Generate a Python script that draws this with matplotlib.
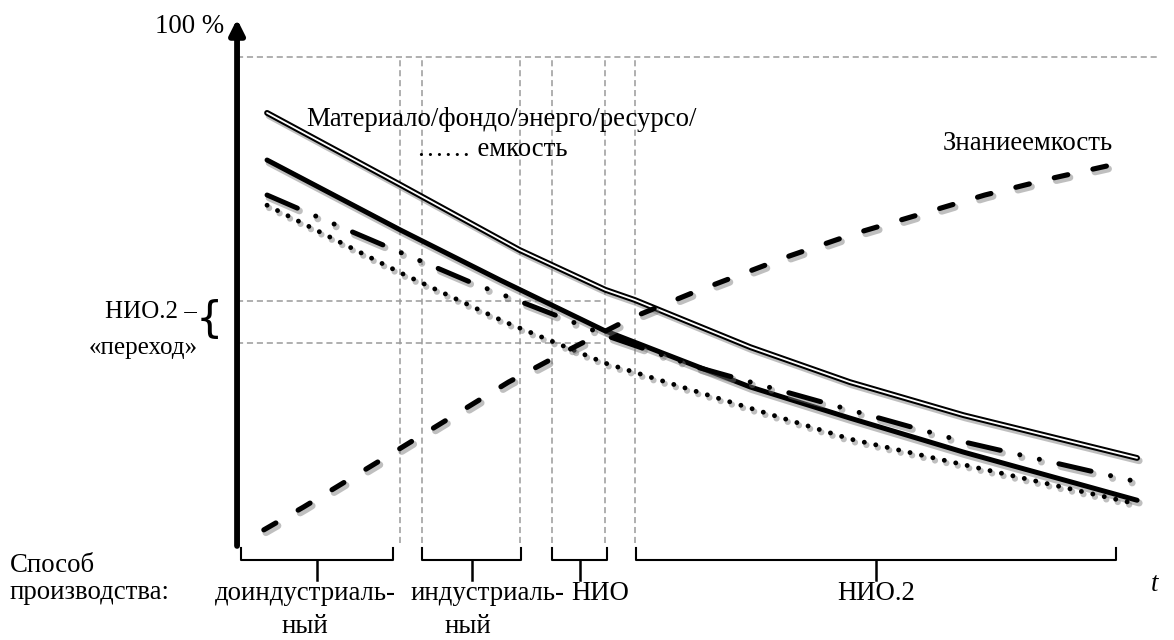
import numpy as np
import matplotlib
matplotlib.use('Agg')
import matplotlib.pyplot as plt
import matplotlib.patheffects as pe

plt.rcParams['font.family'] = ['Liberation Serif', 'DejaVu Serif']

# curves, x = time (0..100), y = percent
mat_x = [3.25, 17.7, 30.6, 39.9, 43.1, 55.6, 66.4, 78.7, 97.5]
mat_y = [88.5, 73.7, 60.3, 52.1, 50.0, 40.3, 33.1, 26.3, 17.5]

sol_x = [3.25, 17.7, 28.5, 39.7, 55.6, 66.4, 78.7, 97.5]
sol_y = [78.8, 64.4, 54.1, 43.8, 32.1, 25.7, 18.7, 8.8]

dd_x = [3.25, 12.5, 25.5, 35.0, 40.4, 50.2, 67.7, 79.2, 97.5]
dd_y = [71.6, 64.0, 53.5, 46.5, 42.4, 36.0, 26.7, 20.6, 12.6]

dot_x = [3.25, 17.7, 29.0, 39.9, 52.1, 66.4, 82.7, 97.5]
dot_y = [69.5, 55.6, 45.5, 37.0, 29.8, 21.4, 14.4, 8.0]

kn_x = [2.9, 7.2, 17.7, 29.4, 36.1, 42.7, 49.5, 59.9, 66.8, 74.1, 81.0, 88.4, 95.7]
kn_y = [2.7, 7.4, 19.5, 33.1, 39.9, 46.3, 51.6, 59.1, 63.6, 67.7, 71.6, 75.1, 78.2]

# epoch boundaries (vertical dashed lines) and brackets
bounds = [17.7, 20.0, 30.6, 34.1, 39.9, 43.1]
epochs = ['доиндустриаль-', 'индустриаль-', 'НИО', 'НИО.2']
epochs2 = ['ный', 'ный', '', '']
ep_start = [0.4, 20.0, 34.1, 43.2]
ep_end = [16.9, 30.8, 40.1, 95.2]
ep_label_x = [7.4, 27.1, 39.3, 69.2]
ep_label2_x = [7.4, 25.0, 0, 0]

trans_lo, trans_hi = 41.2, 49.8   # НИО.2 "переход" band

fig = plt.figure(figsize=(11.74, 6.4), dpi=100)
ax = fig.add_axes([0, 0, 1, 1])
ax.set_xlim(-25.68, 101.5)
ax.set_ylim(-19.96, 111.73)
ax.axis('off')

grey = dict(color='#9a9a9a', lw=1.1, ls=(0, (4, 2.5)))
ax.plot([0, 100], [100, 100], **grey)
for b in bounds:
    ax.plot([b, b], [0, 100], **grey)
for h in (trans_lo, trans_hi):
    ax.plot([0, 39.9], [h, h], **grey)

def shadow(lw):
    return pe.SimpleLineShadow(offset=(1.5, -2), shadow_color='0.45', alpha=0.45, linewidth=lw)

ax.plot(mat_x, mat_y, color='white', lw=1.3, solid_capstyle='round',
        path_effects=[shadow(5), pe.Stroke(linewidth=4.2, foreground='k'), pe.Normal()])
ax.plot(sol_x, sol_y, color='k', lw=3.6, solid_capstyle='round',
        path_effects=[shadow(5), pe.Normal()])
ax.plot(dd_x, dd_y, color='k', lw=3.6, dash_capstyle='round',
        ls=(0, (6.6, 4.0, 0.01, 4.0, 0.01, 4.0)),
        path_effects=[shadow(5), pe.Normal()])
ax.plot(dot_x, dot_y, color='k', lw=3.5, dash_capstyle='round',
        ls=(0, (0.01, 2.4)), path_effects=[shadow(4.5), pe.Normal()])
ax.plot(kn_x, kn_y, color='k', lw=3.7, dash_capstyle='round',
        ls=(0, (2.7, 5.0)), path_effects=[shadow(5), pe.Normal()])

# axes with arrows
ax.annotate('', xy=(0, 107.8), xytext=(0, -0.6),
            arrowprops=dict(arrowstyle='-|>', lw=4.2, color='k', mutation_scale=22, shrinkA=0, shrinkB=0))
ax.annotate('', xy=(101.6, 0), xytext=(-0.3, 0),
            arrowprops=dict(arrowstyle='-|>', lw=4.2, color='k', mutation_scale=22, shrinkA=0, shrinkB=0))

# brackets below the time axis
for s, e in zip(ep_start, ep_end):
    m = (s + e) / 2
    ax.plot([s, s, e, e], [-1.0, -3.5, -3.5, -1.0], color='k', lw=1.5, clip_on=False)
    ax.plot([m, m], [-3.5, -7.6], color='k', lw=1.8, clip_on=False)

fs = 19.3
for lab, x in zip(epochs, ep_label_x):
    ax.text(x, -10.4, lab, ha='center', va='center', fontsize=fs)
for lab, x in zip(epochs2, ep_label2_x):
    if lab:
        ax.text(x, -17.2, lab, ha='center', va='center', fontsize=fs)
ax.text(-24.6, -4.7, 'Способ', ha='left', va='center', fontsize=fs)
ax.text(-24.6, -10.2, 'производства:', ha='left', va='center', fontsize=fs)
ax.text(99.35, -8.6, 't', ha='center', va='center', fontsize=fs, style='italic')

ax.text(-1.4, 106.2, '100 %', ha='right', va='center', fontsize=fs)
ax.text(28.6, 87.2, 'Материало/фондо/энерго/ресурсо/', ha='center', va='center', fontsize=fs)
ax.text(27.6, 80.9, '…… емкость', ha='center', va='center', fontsize=fs)
ax.text(85.7, 82.3, 'Знаниеемкость', ha='center', va='center', fontsize=fs)

ax.text(-4.3, 47.5, 'НИО.2 –', ha='right', va='center', fontsize=18)
ax.text(-4.3, 40.2, '«переход»', ha='right', va='center', fontsize=18)
ax.text(-3.0, 45.8, '{', ha='center', va='center', fontsize=31, family='DejaVu Sans')

fig.savefig('out.png', dpi=100)
